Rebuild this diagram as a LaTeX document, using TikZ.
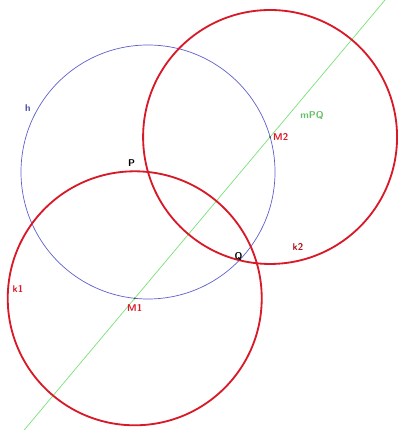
\documentclass[tikz,border=0pt]{standalone}
\usepackage{tikz}
\usetikzlibrary{calc,positioning}
\definecolor{geored}{RGB}{215,25,40}
\definecolor{geoblue}{RGB}{95,95,205}
\definecolor{geogreen}{RGB}{120,225,120}
\tikzset{>=latex}
\tikzset{font=\sffamily\bfseries\scriptsize}
\tikzset{redcirc/.style={draw=geored, line width=1.3pt},
  bluecirc/.style={draw=geoblue, line width=0.5pt},
  greenline/.style={draw=geogreen, line width=0.5pt},
  ptlabel/.style={inner sep=1pt}}

\begin{document}
\begin{tikzpicture}
  \useasboundingbox (0,0) rectangle (9.95,10.75);
  \clip (0,0) rectangle (9.95,10.75);
  % given point and circle h
  \coordinate (P) at (3.7,6.45);
  \coordinate (M1) at ($(P)+(-96:3.175)$);
  \coordinate (M2) at ($(P)+(16:3.175)$);
  % Q is P mirrored in the line M1M2
  \coordinate (F) at ($(M1)!(P)!(M2)$);
  \coordinate (Q) at ($(P)!2!(F)$);
  \coordinate (gA) at ($(M1)!-0.85!(M2)$);
  \coordinate (gB) at ($(M1)!1.9!(M2)$);
  \draw[greenline] (gA) -- (gB);
  \draw[bluecirc] (P) circle (3.175);
  \draw[redcirc] let \p1 = ($(P)-(M1)$) in (M1) circle ({veclen(\x1,\y1)});
  \draw[redcirc] let \p1 = ($(P)-(M2)$) in (M2) circle ({veclen(\x1,\y1)});
  \fill[black!70] (M1) circle (0.7pt);
  \fill[black!70] (M2) circle (0.7pt);
  % labels
  \node[ptlabel, above left=3pt and 8pt of P] (lP) {P};
  \node[ptlabel, above left=1pt and 9pt of Q] (lQ) {Q};
  \node[ptlabel, geored, below=3pt of M1] (lM1) {M1};
  \node[ptlabel, geored, right=1pt of M2] (lM2) {M2};
  \node[ptlabel, geoblue!80!black] (lh) at (0.7,8.05) {h};
  \node[ptlabel, geored] (lk1) at (0.45,3.525) {k1};
  \node[ptlabel, geored!80!black] (lk2) at (7.45,4.575) {k2};
  \node[ptlabel, geogreen!85!black] (lm) at (7.8,7.85) {mPQ};
\end{tikzpicture}
\end{document}
